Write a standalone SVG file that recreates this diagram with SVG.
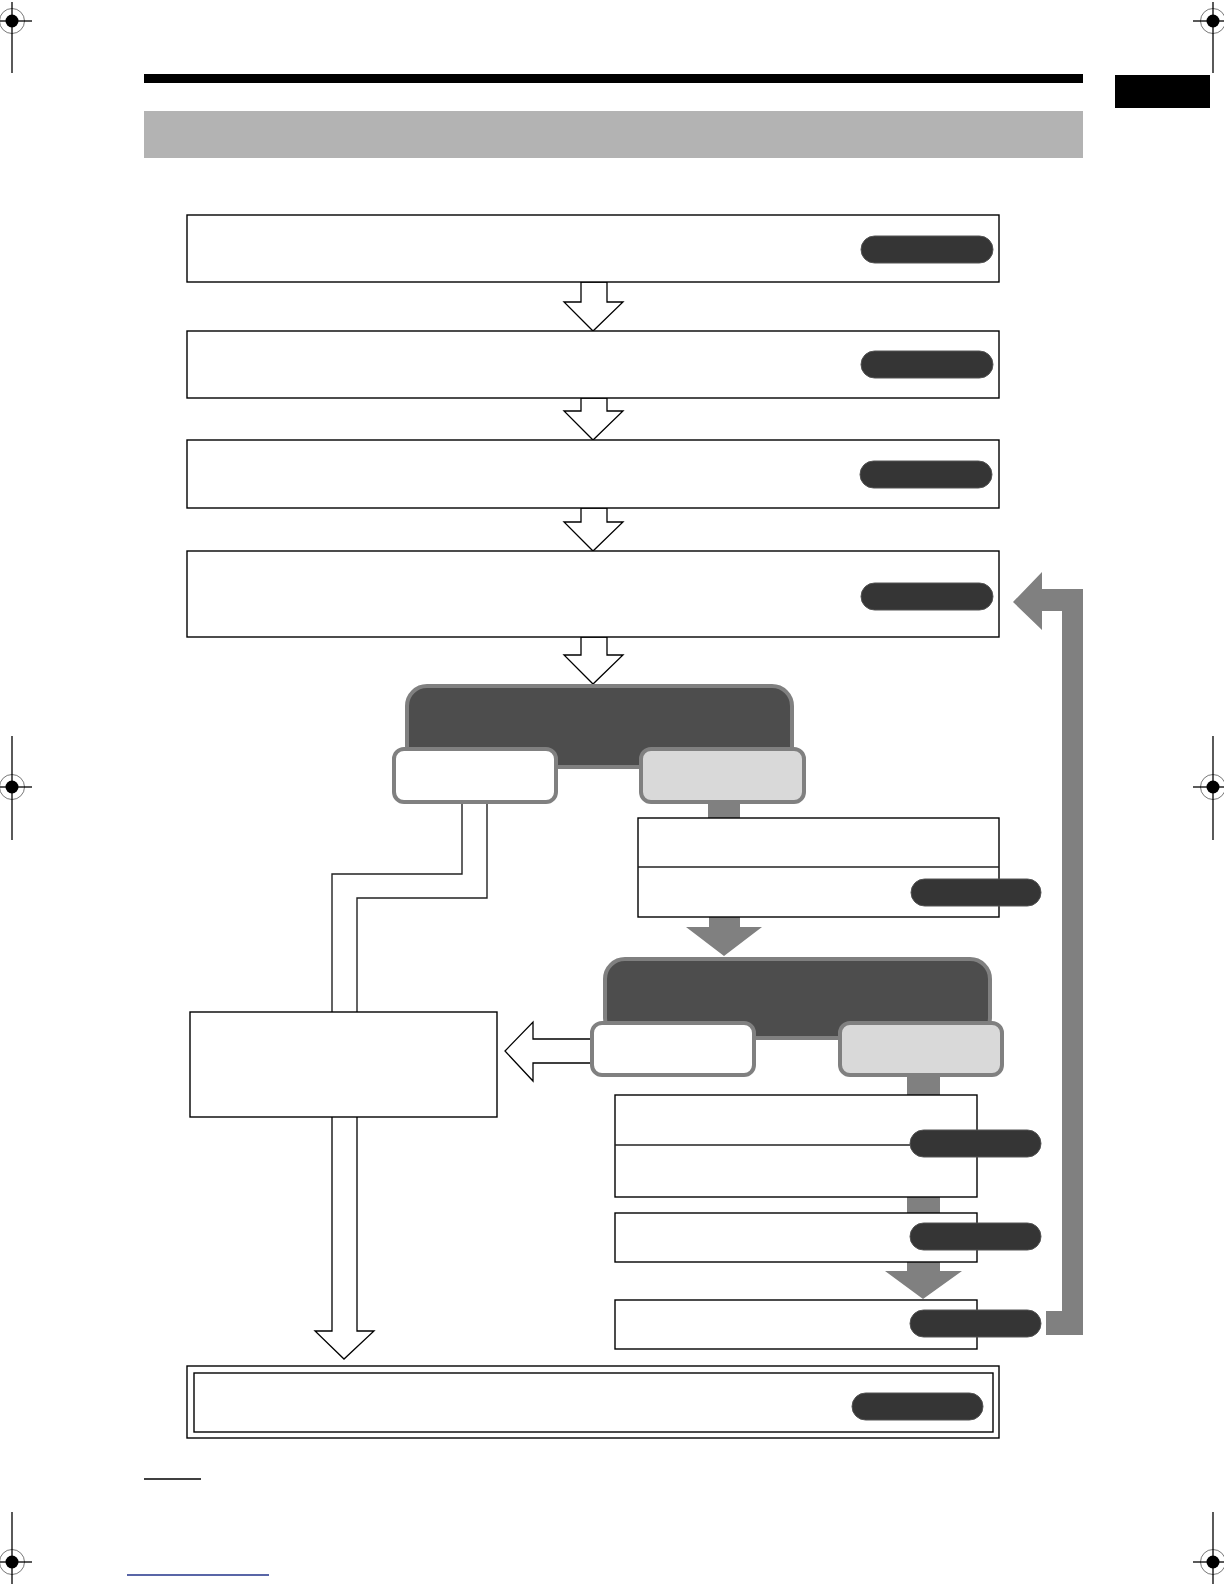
<svg xmlns="http://www.w3.org/2000/svg" width="1224" height="1584" viewBox="0 0 1224 1584">
<style>
.box{fill:#fff;stroke:#000;stroke-width:1.4}
.pill{fill:#353535;stroke:#555;stroke-width:1}
.hollow{fill:#fff;stroke:#000;stroke-width:1.3;stroke-linejoin:miter}
.line{fill:none;stroke:#222;stroke-width:1.4}
.gray{fill:#808080;stroke:none}
.dark{fill:#4d4d4d;stroke:#808080;stroke-width:4}
.opt-w{fill:#fff;stroke:#808080;stroke-width:4}
.opt-g{fill:#d9d9d9;stroke:#808080;stroke-width:4}
.reg-c{fill:none;stroke:#777;stroke-width:1}
.reg-l{stroke:#000;stroke-width:1.3}
</style>
<defs>
<g id="reg">
<circle class="reg-c" cx="0" cy="0" r="12.5"/>
<circle cx="0" cy="0" r="6.5" fill="#000"/>
</g>
</defs>
<rect width="1224" height="1584" fill="#fff"/>

<g id="page-marks">
<use href="#reg" x="12" y="21"/>
<line class="reg-l" x1="12" y1="2" x2="12" y2="73"/>
<line class="reg-l" x1="0" y1="21" x2="32" y2="21"/>
<use href="#reg" x="1213" y="21"/>
<line class="reg-l" x1="1213" y1="2" x2="1213" y2="73"/>
<line class="reg-l" x1="1193" y1="21" x2="1224" y2="21"/>
<use href="#reg" x="12" y="787"/>
<line class="reg-l" x1="12" y1="736" x2="12" y2="840"/>
<line class="reg-l" x1="0" y1="787" x2="32" y2="787"/>
<use href="#reg" x="1213" y="787"/>
<line class="reg-l" x1="1213" y1="736" x2="1213" y2="840"/>
<line class="reg-l" x1="1193" y1="787" x2="1224" y2="787"/>
<use href="#reg" x="12" y="1562"/>
<line class="reg-l" x1="12" y1="1512" x2="12" y2="1584"/>
<line class="reg-l" x1="0" y1="1562" x2="32" y2="1562"/>
<use href="#reg" x="1213" y="1562"/>
<line class="reg-l" x1="1213" y1="1512" x2="1213" y2="1584"/>
<line class="reg-l" x1="1193" y1="1562" x2="1224" y2="1562"/>
</g>

<g id="header">
<rect x="144" y="74" width="939" height="9" fill="#000"/>
<rect x="1115" y="75" width="95" height="33" fill="#000"/>
<rect x="144" y="111" width="939" height="47" fill="#b3b3b3"/>
</g>

<g id="connectors">
<polygon class="hollow" points="581,282 607,282 607,302 623,302 593,331 564,302 581,302"/>
<polygon class="hollow" points="581,398 607,398 607,411 623,411 593,440 564,411 581,411"/>
<polygon class="hollow" points="581,508 607,508 607,522 623,522 593,551 564,522 581,522"/>
<polygon class="hollow" points="581,637 607,637 607,655 623,655 593,684 564,655 581,655"/>
<path class="line" d="M462,802 V874 H332 V1012"/>
<path class="line" d="M487,802 V898 H357 V1012"/>
<path class="hollow" d="M332,1117 V1331 H315 L344,1359 L374,1331 H357 V1117"/>
<polygon class="hollow" points="594,1039 533,1039 533,1022 505,1051 533,1081 533,1063 594,1063"/>
<rect class="gray" x="708" y="800" width="32" height="19"/>
<polygon class="gray" points="709,916 740,916 740,927 762,927 724,956 686,927 709,927"/>
<rect class="gray" x="907" y="1072" width="33" height="24"/>
<rect class="gray" x="907" y="1196" width="33" height="18"/>
<polygon class="gray" points="907,1261 940,1261 940,1271 962,1271 923,1299 885,1271 907,1271"/>
<polygon class="gray" points="1013,602 1042,572 1042,589 1083,589 1083,1335 1046,1335 1046,1311 1062,1311 1062,611 1042,611 1042,630"/>
</g>

<g id="node-1">
<rect class="box" x="187" y="215" width="812" height="67"/>
<rect class="pill" x="861" y="236" width="132" height="27" rx="13.5"/>
</g>
<g id="node-2">
<rect class="box" x="187" y="331" width="812" height="67"/>
<rect class="pill" x="861" y="351" width="132" height="27" rx="13.5"/>
</g>
<g id="node-3">
<rect class="box" x="187" y="440" width="812" height="68"/>
<rect class="pill" x="860" y="461" width="132" height="27" rx="13.5"/>
</g>
<g id="node-4">
<rect class="box" x="187" y="551" width="812" height="86"/>
<rect class="pill" x="861" y="583" width="132" height="27" rx="13.5"/>
</g>

<g id="decision-1">
<rect class="dark" x="407" y="686" width="385" height="81" rx="20"/>
<rect class="opt-w" x="394" y="749" width="162" height="53" rx="10"/>
<rect class="opt-g" x="641" y="749" width="163" height="53" rx="10"/>
</g>

<g id="node-5">
<rect class="box" x="638" y="818" width="361" height="99"/>
<line class="line" x1="638" y1="867" x2="999" y2="867"/>
<rect class="pill" x="911" y="879" width="130" height="27" rx="13.5"/>
</g>

<g id="decision-2">
<rect class="dark" x="605" y="959" width="385" height="79" rx="20"/>
<rect class="opt-w" x="592" y="1023" width="162" height="52" rx="10"/>
<rect class="opt-g" x="840" y="1023" width="162" height="52" rx="10"/>
</g>

<g id="node-left">
<rect class="box" x="190" y="1012" width="307" height="105"/>
</g>

<g id="node-6">
<rect class="box" x="615" y="1095" width="362" height="102"/>
<line class="line" x1="615" y1="1145" x2="912" y2="1145"/>
<rect class="pill" x="910" y="1130" width="131" height="27" rx="13.5"/>
</g>
<g id="node-7">
<rect class="box" x="615" y="1213" width="362" height="49"/>
<rect class="pill" x="910" y="1223" width="131" height="27" rx="13.5"/>
</g>
<g id="node-8">
<rect class="box" x="615" y="1300" width="362" height="49"/>
<rect class="pill" x="910" y="1310" width="131" height="27" rx="13.5"/>
</g>

<g id="node-end">
<rect class="box" x="187" y="1366" width="812" height="72"/>
<rect class="box" x="194" y="1373" width="799" height="59"/>
<rect class="pill" x="852" y="1393" width="131" height="27" rx="13.5"/>
</g>

<g id="footer">
<line x1="144" y1="1479" x2="201" y2="1479" stroke="#000" stroke-width="1.5"/>
<line x1="127" y1="1575" x2="269" y2="1575" stroke="#22338a" stroke-width="1.5"/>
</g>
</svg>
